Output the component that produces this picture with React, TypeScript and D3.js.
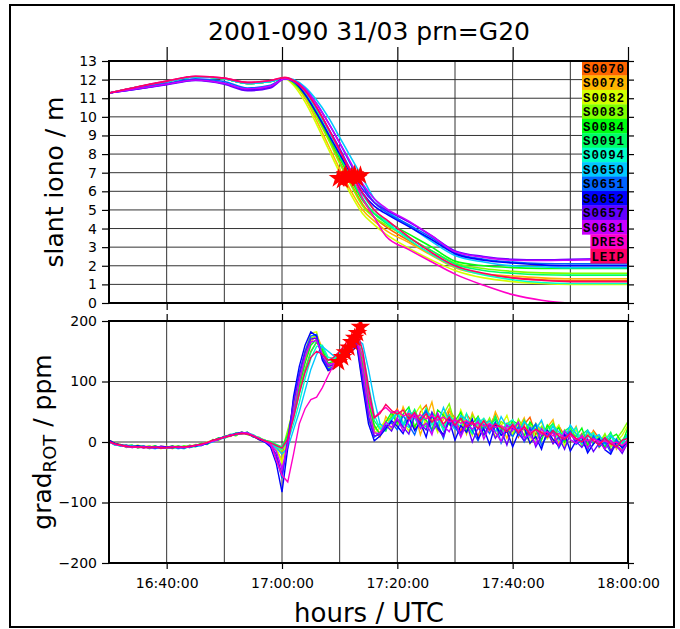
import { useEffect, useRef } from "react";
import * as d3 from "d3";

const FONT = "DejaVu Sans, sans-serif";
const MONO = "Liberation Mono, monospace";

const title = "2001-090 31/03 prn=G20";

const stations = ["S0070", "S0078", "S0082", "S0083", "S0084", "S0091", "S0094", "S0650", "S0651", "S0652", "S0657", "S0681", "DRES", "LEIP"];
const stationColors = ["#ff6400", "#ffb400", "#d4ff00", "#80ff00", "#00ff10", "#00ff66", "#00ffc8", "#00c8ff", "#0064ff", "#0000ff", "#6400ff", "#c800ff", "#ff00c8", "#ff0064"];

const timeStart = "16:30";
const timeEnd = "18:00";
const timeTicks = ["16:40", "17:00", "17:20", "17:40", "18:00"];
const gridTimes = ["16:40", "16:50", "17:00", "17:10", "17:20", "17:30", "17:40", "17:50"];
const ionoTicks = [0, 1, 2, 3, 4, 5, 6, 7, 8, 9, 10, 11, 12, 13];
const gradTicks = [-200, -100, 0, 100, 200];

// slant iono, minutes after 16:30
const ionoMinutes = [0, 5, 10, 15, 20, 24, 28, 30.5, 32, 34, 36, 38, 40, 42, 44, 46, 48, 52, 56, 60, 65, 70, 75, 80, 85, 90];
const ionoS0070 = [11.28, 11.6, 11.9, 12.15, 12.05, 11.8, 11.9, 12.1, 11.9, 11.2, 10.1, 8.9, 7.6, 6.4, 5.3, 4.6, 4.1, 3.35, 2.6, 1.95, 1.55, 1.35, 1.25, 1.2, 1.2, 1.2];
const ionoS0078 = [11.28, 11.6, 11.9, 12.15, 12.05, 11.8, 11.9, 12.1, 11.8, 11.0, 9.8, 8.5, 7.2, 6.0, 5.0, 4.4, 3.9, 3.25, 2.55, 1.9, 1.55, 1.45, 1.35, 1.3, 1.3, 1.3];
const ionoS0082 = [11.28, 11.6, 11.9, 12.15, 12.05, 11.8, 11.9, 12.05, 11.7, 10.8, 9.6, 8.3, 7.0, 5.8, 4.8, 4.2, 3.7, 2.95, 2.3, 1.75, 1.35, 1.15, 1.05, 1.0, 1.0, 1.0];
const ionoS0083 = [11.28, 11.6, 11.9, 12.15, 12.05, 11.8, 11.9, 12.1, 11.8, 11.1, 10.0, 8.8, 7.5, 6.3, 5.2, 4.6, 4.2, 3.5, 2.8, 2.15, 1.85, 1.7, 1.62, 1.6, 1.6, 1.6];
const ionoS0084 = [11.28, 11.6, 11.9, 12.15, 12.05, 11.8, 11.9, 12.1, 11.85, 11.2, 10.2, 9.0, 7.8, 6.6, 5.5, 4.8, 4.4, 3.7, 3.0, 2.25, 2.0, 1.9, 1.86, 1.85, 1.85, 1.85];
const ionoS0091 = [11.28, 11.6, 11.9, 12.15, 12.05, 11.8, 11.9, 12.1, 11.9, 11.3, 10.3, 9.1, 7.9, 6.7, 5.6, 4.8, 4.3, 3.5, 2.8, 2.1, 1.75, 1.6, 1.52, 1.5, 1.5, 1.5];
const ionoS0094 = [11.28, 11.6, 11.9, 12.15, 12.05, 11.8, 11.9, 12.1, 11.9, 11.3, 10.4, 9.3, 8.1, 6.9, 5.8, 5.0, 4.4, 3.4, 2.6, 1.95, 1.5, 1.25, 1.1, 1.05, 1.05, 1.05];
const ionoS0650 = [11.28, 11.6, 11.9, 12.15, 12.05, 11.8, 11.9, 12.1, 12.0, 11.6, 10.9, 10.0, 8.9, 7.8, 6.7, 5.6, 5.0, 4.15, 3.3, 2.55, 2.2, 2.0, 1.95, 1.9, 1.9, 1.9];
const ionoS0651 = [11.28, 11.55, 11.8, 12.05, 11.9, 11.55, 11.7, 12.05, 11.95, 11.5, 10.7, 9.7, 8.6, 7.4, 6.3, 5.4, 4.9, 4.2, 3.5, 2.7, 2.35, 2.2, 2.12, 2.1, 2.1, 2.1];
const ionoS0652 = [11.28, 11.5, 11.75, 11.98, 11.8, 11.45, 11.6, 12.1, 11.9, 11.2, 10.2, 9.1, 8.0, 6.9, 5.9, 5.2, 4.8, 4.1, 3.4, 2.65, 2.3, 2.15, 2.05, 2.0, 2.0, 2.0];
const ionoS0657 = [11.28, 11.5, 11.72, 11.95, 11.75, 11.4, 11.55, 12.05, 11.9, 11.4, 10.5, 9.4, 8.3, 7.1, 6.1, 5.4, 5.0, 4.35, 3.6, 2.8, 2.5, 2.35, 2.32, 2.35, 2.38, 2.4];
const ionoS0681 = [11.28, 11.52, 11.76, 11.98, 11.8, 11.5, 11.65, 12.05, 11.95, 11.5, 10.7, 9.7, 8.6, 7.5, 6.4, 5.6, 5.1, 4.4, 3.6, 2.75, 2.45, 2.3, 2.28, 2.3, 2.33, 2.35];
const ionoDRES = [11.28, 11.62, 11.92, 12.18, 12.08, 11.85, 11.95, 12.1, 11.95, 11.4, 10.5, 9.4, 8.2, 7.0, 5.6, 4.6, 3.6, 2.87, 2.2, 1.55, 0.95, 0.45, 0.15, 0.0, 0.0, 0.0];
const ionoLEIP = [11.28, 11.62, 11.92, 12.18, 12.08, 11.85, 11.95, 12.12, 11.95, 11.4, 10.5, 9.4, 8.2, 7.0, 5.9, 5.0, 4.5, 3.55, 2.7, 2.0, 1.6, 1.35, 1.22, 1.15, 1.15, 1.15];
const ionoSeries = [ionoS0070, ionoS0078, ionoS0082, ionoS0083, ionoS0084, ionoS0091, ionoS0094, ionoS0650, ionoS0651, ionoS0652, ionoS0657, ionoS0681, ionoDRES, ionoLEIP];

// gradROT, one value per minute after 16:30
const gradMinutes = [0, 1, 2, 3, 4, 5, 6, 7, 8, 9, 10, 11, 12, 13, 14, 15, 16, 17, 18, 19, 20, 21, 22, 23, 24, 25, 26, 27, 28, 29, 30, 31, 32, 33, 34, 35, 36, 37, 38, 39, 40, 41, 42, 43, 44, 45, 46, 47, 48, 49, 50, 51, 52, 53, 54, 55, 56, 57, 58, 59, 60, 61, 62, 63, 64, 65, 66, 67, 68, 69, 70, 71, 72, 73, 74, 75, 76, 77, 78, 79, 80, 81, 82, 83, 84, 85, 86, 87, 88, 89, 90];
const gradS0070 = [2, -2, -5, -8, -6, -9, -7, -10, -8, -9, -10, -7, -9, -8, -6, -7, -4, -1, 3, 5, 9, 11, 13, 16, 13, 9, 4, 2, -2, -8, -20, 10, 45, 85, 120, 150, 165, 150, 128, 132, 140, 152, 165, 172, 130, 70,
  25, 15, 34, 41, 55, 28, 47, 22, 50, 61, 31, 44, 19, 52, 40, 17, 46, 33, 9, 38, 27, 45, 14, 30, 36, 8, 29, 41, 12, 25, 18, -2, 27, 10, 21, 0, 14, -8, 19, 6, -10, 12, -5, -14, 6];
const gradS0078 = [0, -4, -6, -5, -9, -7, -8, -6, -10, -7, -8, -11, -7, -9, -7, -5, -6, -2, 1, 6, 7, 12, 11, 15, 15, 11, 7, 1, 0, -12, -30, 5, 50, 95, 135, 165, 178, 155, 125, 128, 135, 148, 160, 168, 115, 55,
  18, 8, 42, 30, 26, 58, 36, 49, 12, 40, 66, 24, 37, 55, 21, 39, 13, 48, 26, 35, 18, 50, 29, 6, 33, 22, 40, 7, 31, 15, 24, 37, -4, 20, 9, 26, -6, 11, 17, -9, 4, 15, -12, 2, 10];
const gradS0082 = [3, -1, -6, -7, -8, -5, -9, -8, -7, -11, -7, -9, -10, -6, -8, -4, -5, 0, 2, 4, 10, 9, 14, 13, 16, 10, 6, 4, -4, -10, -35, 15, 60, 110, 150, 180, 182, 140, 118, 125, 130, 140, 155, 160, 95, 35,
  15, 24, 36, 20, 51, 33, 18, 45, 60, 27, 39, 16, 48, 31, 22, 53, 29, 11, 42, 24, 35, 8, 26, 44, 13, 30, 19, -3, 23, 34, 5, 16, 28, -7, 12, 20, 1, -11, 15, 3, 9, -13, 0, 11, 28];
const gradS0083 = [1, -3, -4, -9, -7, -6, -10, -7, -9, -8, -11, -8, -6, -10, -5, -8, -3, -3, 4, 3, 8, 13, 10, 17, 12, 12, 5, 3, -1, -6, -15, 20, 55, 100, 140, 172, 176, 148, 122, 130, 136, 145, 158, 166, 110, 50,
  20, 30, 19, 45, 38, 24, 52, 41, 27, 57, 33, 20, 46, 63, 29, 37, 15, 44, 31, 22, 40, 16, 34, 27, 9, 38, 21, 30, 4, 26, 14, 32, 8, -1, 22, 13, -6, 17, 7, -3, 14, -8, 5, 18, 34];
const gradS0084 = [0, -2, -7, -6, -5, -10, -8, -9, -6, -10, -9, -6, -10, -7, -9, -6, -2, -4, 2, 7, 6, 10, 15, 14, 16, 8, 8, 2, 1, -5, -10, 12, 48, 92, 130, 160, 170, 152, 130, 134, 142, 150, 162, 170, 125, 65,
  28, 12, 33, 49, 30, 46, 58, 25, 41, 36, 20, 53, 44, 28, 35, 49, 18, 30, 42, 11, 27, 38, 23, 16, 35, 29, 10, 33, 20, 3, 28, 15, 24, 0, 17, 9, 23, -5, 10, 2, -8, 7, 13, -2, 24];
const gradS0091 = [2, -5, -4, -7, -8, -7, -6, -11, -8, -8, -9, -10, -8, -7, -8, -7, -4, -2, 1, 6, 8, 11, 12, 15, 14, 10, 6, 3, 0, -4, -8, 8, 40, 80, 118, 148, 166, 158, 135, 136, 145, 155, 168, 175, 140, 80,
  35, 22, 18, 40, 47, 29, 36, 54, 31, 25, 49, 38, 22, 45, 30, 41, 26, 14, 37, 29, 21, 43, 18, 31, 25, 12, 36, 19, 27, 10, 22, 30, 6, 18, 25, 3, 12, 20, -4, 9, 1, 16, -7, 3, 14];
const gradS0094 = [-1, -4, -7, -6, -7, -8, -9, -7, -10, -9, -8, -9, -9, -11, -7, -8, -5, -3, 2, 4, 7, 12, 14, 13, 15, 12, 7, 2, -2, -8, -12, 0, 30, 65, 105, 138, 158, 160, 140, 138, 146, 156, 170, 178, 150, 95,
  45, 22, 27, 38, 49, 32, 24, 47, 36, 55, 28, 40, 19, 43, 33, 26, 47, 15, 31, 39, 20, 34, 12, 29, 37, 18, 25, 8, 30, 21, 14, 27, 3, 19, 11, 24, -2, 8, 15, -5, 6, 12, -9, 0, 9];
const gradS0650 = [1, -5, -6, -8, -6, -9, -7, -9, -11, -8, -10, -8, -11, -9, -6, -7, -6, -2, 0, 5, 9, 10, 13, 16, 13, 11, 5, 3, -3, -10, -20, -10, 20, 50, 85, 120, 145, 158, 150, 142, 148, 158, 166, 170, 162, 120,
  70, 30, 22, 36, 48, 27, 53, 39, 24, 50, 42, 30, 57, 33, 21, 44, 37, 18, 40, 28, 35, 16, 42, 25, 30, 11, 33, 24, 20, 36, 9, 26, 17, 5, 28, 14, -3, 19, 8, 12, -4, 10, 3, -7, 15];
const gradS0651 = [2, -3, -6, -5, -9, -7, -8, -10, -7, -9, -9, -10, -7, -8, -9, -6, -5, -1, 1, 5, 8, 11, 12, 14, 16, 9, 5, 1, -5, -25, -60, 0, 70, 115, 150, 175, 178, 138, 120, 126, 134, 144, 155, 162, 100, 40,
  8, 15, 25, 32, 20, 44, 28, 12, 39, 52, 17, 30, 6, 41, 24, 10, 35, 19, 2, 28, 14, 33, -2, 21, 9, 25, 0, 16, 30, -6, 11, 20, -10, 7, 18, -4, 3, -14, 10, -8, 0, -17, 5, -11, 4];
const gradS0652 = [3, -2, -5, -7, -8, -6, -9, -8, -10, -7, -8, -9, -8, -10, -7, -7, -4, -3, 3, 4, 9, 10, 14, 15, 13, 10, 4, 0, -8, -35, -83, -10, 75, 125, 160, 182, 175, 135, 118, 122, 130, 140, 150, 158, 92, 30,
  2, 10, 22, 35, 26, 14, 41, 19, 33, 8, 46, 24, 12, 36, 3, 27, 16, 38, 5, 22, -4, 30, 11, 18, -8, 15, 24, -2, 9, -12, 19, 4, -7, 13, -15, 2, 8, -18, -3, 6, -13, -20, 0, -9, 2];
const gradS0657 = [1, -4, -5, -8, -7, -8, -7, -9, -9, -10, -9, -7, -10, -8, -8, -5, -6, -2, 2, 6, 7, 12, 13, 16, 14, 9, 6, 2, -6, -20, -55, 5, 65, 110, 148, 170, 172, 140, 125, 128, 136, 146, 158, 165, 105, 42,
  10, 12, 28, 18, 38, 25, 13, 44, 30, 20, 49, 22, 9, 37, 27, 15, 31, 0, 24, 12, 29, 6, 20, -5, 26, 14, 2, 23, -8, 10, 17, -3, 8, -12, 14, 1, -9, 5, -16, -2, 7, -14, -6, -19, 0];
const gradS0681 = [0, -3, -6, -6, -9, -8, -10, -8, -9, -8, -10, -8, -9, -9, -7, -6, -5, -1, 1, 4, 8, 10, 13, 15, 15, 11, 6, 1, -4, -15, -45, -5, 50, 100, 140, 165, 168, 145, 128, 130, 138, 150, 160, 168, 118, 55,
  15, 14, 33, 24, 40, 18, 35, 46, 22, 31, 12, 48, 27, 17, 39, 8, 30, 21, 34, 5, 26, 16, 1, 28, 19, 33, 7, 12, -4, 22, 9, 15, -7, 18, 4, -2, 11, -10, 6, 1, -12, 3, -8, -15, -2];
const gradDRES = [0, -4, -6, -8, -8, -9, -8, -10, -9, -9, -9, -9, -8, -9, -8, -6, -4, -1, 2, 5, 8, 11, 13, 14, 14, 10, 6, 2, -2, -30, -55, -66, -20, 30, 55, 70, 74, 90, 110, 128, 140, 150, 162, 168, 140, 75,
  40, 50, 57, 48, 52, 43, 47, 40, 45, 38, 44, 36, 41, 33, 37, 31, 35, 29, 32, 26, 30, 24, 27, 21, 25, 19, 23, 16, 20, 13, 17, 10, 14, 7, 11, 4, 8, 2, 5, -1, 2, -3, 0, -6, 2];
const gradLEIP = [1, -3, -5, -7, -8, -8, -9, -9, -8, -10, -9, -9, -8, -8, -7, -6, -3, -1, 3, 5, 8, 10, 13, 14, 13, 10, 5, 2, -1, -6, -10, 5, 40, 80, 115, 140, 150, 145, 135, 140, 150, 162, 175, 185, 150, 90,
  40, 47, 62, 52, 46, 53, 38, 49, 35, 47, 33, 43, 30, 41, 28, 39, 25, 33, 22, 35, 20, 30, 24, 17, 29, 15, 26, 12, 21, 16, 8, 19, 10, 4, 15, 6, 0, 11, 2, -5, 7, -3, -8, 3, 6];
const gradSeries = [gradS0070, gradS0078, gradS0082, gradS0083, gradS0084, gradS0091, gradS0094, gradS0650, gradS0651, gradS0652, gradS0657, gradS0681, gradDRES, gradLEIP];

// red star markers
const starMinutes = [39.8, 40.5, 41.0, 41.6, 42.1, 42.6, 43.1, 43.6];
const starIono = [6.7, 6.6, 6.9, 6.7, 6.8, 6.9, 6.7, 6.85];
const starGrad = [132, 140, 148, 156, 165, 172, 180, 190];

const parseTime = d3.utcParse("%H:%M");
const t0 = parseTime(timeStart)!;
const atMinute = (m: number) => new Date(t0.getTime() + m * 60000);

const L = 109, R = 628;
const TOP = [61, 303];
const BOT = [321, 563];

export default function App() {
  const topLeft = useRef<SVGGElement>(null);
  const topRight = useRef<SVGGElement>(null);
  const topUp = useRef<SVGGElement>(null);
  const topDown = useRef<SVGGElement>(null);
  const botLeft = useRef<SVGGElement>(null);
  const botRight = useRef<SVGGElement>(null);
  const botUp = useRef<SVGGElement>(null);
  const botDown = useRef<SVGGElement>(null);

  const x = d3.scaleUtc([t0, parseTime(timeEnd)!], [L, R]);
  const yIono = d3.scaleLinear([0, 13], [TOP[1], TOP[0]]);
  const yGrad = d3.scaleLinear([-200, 200], [BOT[1], BOT[0]]);
  const tickDates = timeTicks.map((s) => parseTime(s)!);
  const gridDates = gridTimes.map((s) => parseTime(s)!);

  const ionoLine = d3
    .line<number>()
    .x((_, i) => x(atMinute(ionoMinutes[i])))
    .y((d) => yIono(d))
    .curve(d3.curveMonotoneX);
  const gradLine = d3
    .line<number>()
    .x((_, i) => x(atMinute(gradMinutes[i])))
    .y((d) => yGrad(d));
  const star = d3.symbol(d3.symbolStar, 120)();

  useEffect(() => {
    const style = (g: any) => {
      g.select(".domain").remove();
      g.attr("font-family", FONT).attr("font-size", 14);
      g.selectAll("line").attr("stroke", "#000").attr("stroke-width", 1.2);
      g.selectAll("text").attr("fill", "#000");
    };
    d3.select(topLeft.current!).call(d3.axisLeft(yIono).tickValues(ionoTicks).tickSize(7).tickPadding(5)).call(style);
    d3.select(topRight.current!).call(d3.axisRight(yIono).tickValues(ionoTicks).tickSize(6).tickFormat(() => "")).call(style);
    d3.select(topUp.current!).call(d3.axisTop(x).tickValues(tickDates).tickSize(14).tickFormat(() => "")).call(style);
    d3.select(topDown.current!).call(d3.axisBottom(x).tickValues(tickDates).tickSize(7).tickFormat(() => "")).call(style);
    d3.select(botLeft.current!).call(d3.axisLeft(yGrad).tickValues(gradTicks).tickSize(7).tickPadding(5)).call(style);
    d3.select(botRight.current!).call(d3.axisRight(yGrad).tickValues(gradTicks).tickSize(6).tickFormat(() => "")).call(style);
    d3.select(botUp.current!).call(d3.axisTop(x).tickValues(tickDates).tickSize(7).tickFormat(() => "")).call(style);
    d3.select(botDown.current!)
      .call(d3.axisBottom(x).tickValues(tickDates).tickSize(6).tickPadding(9).tickFormat((d: any) => d3.utcFormat("%H:%M:%S")(d)))
      .call(style);
  }, []);

  const legendRow = (TOP[1] - TOP[0]) / 16.75;

  return (
    <svg width={680} height={629} style={{ position: "absolute", left: 0, top: 0, background: "#fff" }}>
      <defs>
        <clipPath id="clipTop">
          <rect x={L} y={TOP[0]} width={R - L} height={TOP[1] - TOP[0] + 1} />
        </clipPath>
        <clipPath id="clipBot">
          <rect x={L} y={BOT[0]} width={R - L} height={BOT[1] - BOT[0]} />
        </clipPath>
      </defs>
      <rect x={10} y={5} width={664} height={622} fill="#fff" stroke="#000" strokeWidth={2} />

      <text x={369} y={40} textAnchor="middle" fontFamily={FONT} fontSize={25}>{title}</text>

      {/* grid */}
      <g stroke="#333" strokeWidth={1}>
        {ionoTicks.slice(1, -1).map((v) => (
          <line key={"hi" + v} x1={L} x2={R} y1={yIono(v)} y2={yIono(v)} />
        ))}
        {gradTicks.slice(1, -1).map((v) => (
          <line key={"hg" + v} x1={L} x2={R} y1={yGrad(v)} y2={yGrad(v)} />
        ))}
        {gridDates.map((d, i) => (
          <g key={"v" + i}>
            <line x1={x(d)} x2={x(d)} y1={TOP[0]} y2={TOP[1]} />
            <line x1={x(d)} x2={x(d)} y1={BOT[0]} y2={BOT[1]} />
          </g>
        ))}
      </g>

      {/* slant iono */}
      <g clipPath="url(#clipTop)" fill="none" strokeWidth={1.6}>
        {ionoSeries.map((s, i) => (
          <path key={stations[i]} d={ionoLine(s)!} stroke={stationColors[i]} />
        ))}
        {starMinutes.map((m, i) => (
          <path key={"st" + i} d={star!} fill="#ff0000" transform={`translate(${x(atMinute(m))},${yIono(starIono[i])})`} />
        ))}
      </g>

      {/* gradROT */}
      <g clipPath="url(#clipBot)" fill="none" strokeWidth={1.4}>
        {gradSeries.map((s, i) => (
          <path key={stations[i]} d={gradLine(s)!} stroke={stationColors[i]} />
        ))}
        {starMinutes.map((m, i) => (
          <path key={"sb" + i} d={star!} fill="#ff0000" transform={`translate(${x(atMinute(m))},${yGrad(starGrad[i])})`} />
        ))}
      </g>

      {/* legend */}
      <g fontFamily={MONO} fontSize={12.5} fontWeight="bold">
        {stations.map((s, i) => {
          const w = s.length * 8.4 + 4;
          const y = TOP[0] + i * legendRow;
          return (
            <g key={s}>
              <rect x={R - w} y={y} width={w} height={legendRow + 0.3} fill={stationColors[i]} />
              <text x={R - 3} y={y + legendRow / 2 + 4.5} textAnchor="end" letterSpacing={0.9} fill="#000">{s}</text>
            </g>
          );
        })}
      </g>

      {/* frames */}
      <rect x={L} y={TOP[0]} width={R - L} height={TOP[1] - TOP[0]} fill="none" stroke="#000" strokeWidth={2} />
      <rect x={L} y={BOT[0]} width={R - L} height={BOT[1] - BOT[0]} fill="none" stroke="#000" strokeWidth={2} />

      <g ref={topLeft} transform={`translate(${L},0)`} />
      <g ref={topRight} transform={`translate(${R},0)`} />
      <g ref={topUp} transform={`translate(0,${TOP[0]})`} />
      <g ref={topDown} transform={`translate(0,${TOP[1]})`} />
      <g ref={botLeft} transform={`translate(${L},0)`} />
      <g ref={botRight} transform={`translate(${R},0)`} />
      <g ref={botUp} transform={`translate(0,${BOT[0]})`} />
      <g ref={botDown} transform={`translate(0,${BOT[1]})`} />

      <text transform={`translate(63,${(TOP[0] + TOP[1]) / 2}) rotate(-90)`} textAnchor="middle" fontFamily={FONT} fontSize={25}>
        slant iono / m
      </text>
      <text transform={`translate(51,${(BOT[0] + BOT[1]) / 2}) rotate(-90)`} textAnchor="middle" fontFamily={FONT} fontSize={25}>
        grad<tspan fontSize={18} dy={5}>ROT</tspan>
        <tspan dy={-5}> / ppm</tspan>
      </text>
      <text x={369} y={622} textAnchor="middle" fontFamily={FONT} fontSize={26}>hours / UTC</text>
    </svg>
  );
}
